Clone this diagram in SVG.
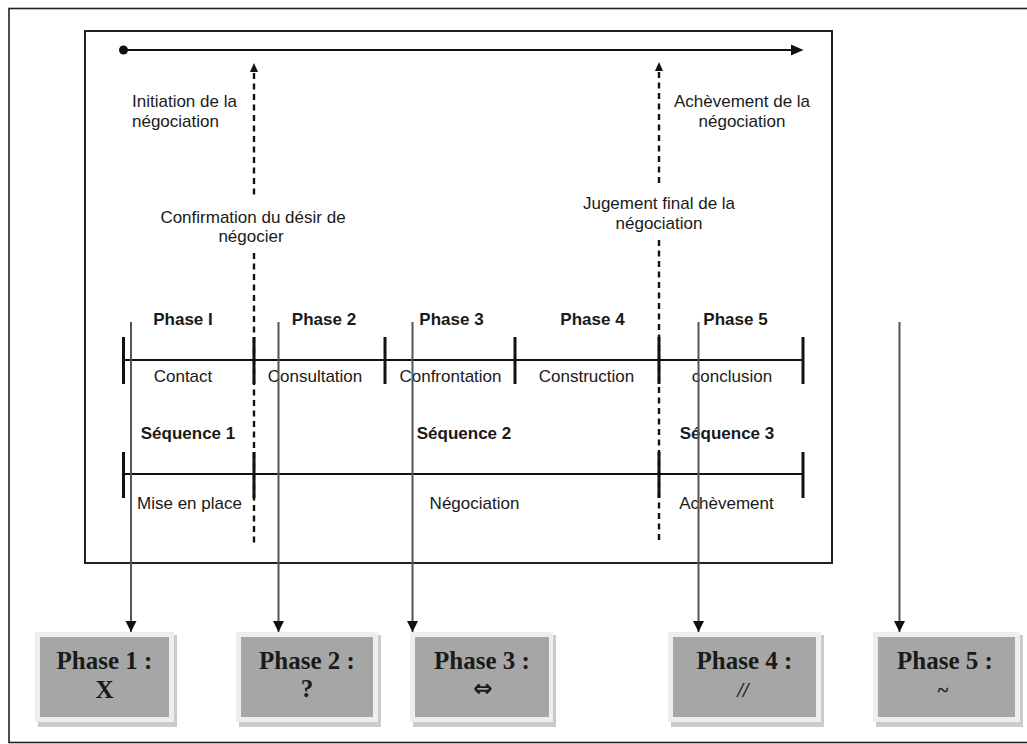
<svg xmlns="http://www.w3.org/2000/svg" width="1027" height="744" viewBox="0 0 1027 744">
<style>
.lbl{font-family:"Liberation Sans",Arial,sans-serif;font-size:17px;fill:#1a1a1a}
.b{font-weight:bold}
.mid{text-anchor:middle}
.box-t{font-family:"Liberation Serif","DejaVu Serif",serif;font-size:25px;font-weight:bold;fill:#1a1a1a;text-anchor:middle}
.axis{stroke:#111;stroke-width:2;fill:none}
.tick{stroke:#111;stroke-width:3}
.dash{stroke:#111;stroke-width:2.4;stroke-dasharray:6 4.5;fill:none}
.conn{stroke:#555;stroke-width:2;fill:none}
.light{fill:#eeeeee}
.shadow{fill:#cbcbcb}
.gray{fill:#a6a6a6}
</style>
<defs>
<marker id="down" markerUnits="userSpaceOnUse" markerWidth="12" markerHeight="12" refX="11" refY="6" orient="auto" viewBox="0 0 12 12">
<path d="M0,0.5 L11,6 L0,11.5 Z" fill="#111"/>
</marker>
</defs>
<rect width="1027" height="744" fill="#fff"/>
<!-- outer frame -->
<rect x="9" y="8.5" width="1030" height="734" fill="none" stroke="#222" stroke-width="1.6"/>
<!-- inner frame -->
<rect x="85" y="31" width="747" height="532" fill="none" stroke="#222" stroke-width="2"/>

<g id="timeline">
<line x1="123" y1="50" x2="793" y2="50" class="axis"/>
<circle cx="123.5" cy="50" r="4.5" fill="#111"/>
<path d="M791,44.5 L803.5,50 L791,55.5 Z" fill="#111"/>
</g>

<g id="milestone-start">
<line x1="254" y1="73" x2="254" y2="195" class="dash"/>
<line x1="254" y1="253" x2="254" y2="543" class="dash"/>
<path d="M250,72 L254,63 L258,72 Z" fill="#111"/>
<text class="lbl" x="132" y="107">Initiation de la</text>
<text class="lbl" x="132" y="127">négociation</text>
<text class="lbl mid" x="253" y="223">Confirmation du désir de</text>
<text class="lbl mid" x="251" y="242">négocier</text>
</g>

<g id="milestone-end">
<line x1="659" y1="72" x2="659" y2="183" class="dash"/>
<line x1="659" y1="240" x2="659" y2="543" class="dash"/>
<path d="M655,71 L659,62 L663,71 Z" fill="#111"/>
<text class="lbl mid" x="742" y="107">Achèvement de la</text>
<text class="lbl mid" x="742" y="127">négociation</text>
<text class="lbl mid" x="659" y="209">Jugement final de la</text>
<text class="lbl mid" x="659" y="229">négociation</text>
</g>

<g id="phases">
<line x1="123" y1="360" x2="803" y2="360" class="axis"/>
<line x1="123.5" y1="337" x2="123.5" y2="384" class="tick"/>
<line x1="254" y1="337" x2="254" y2="384" class="tick"/>
<line x1="385" y1="337" x2="385" y2="384" class="tick"/>
<line x1="515" y1="337" x2="515" y2="384" class="tick"/>
<line x1="659" y1="337" x2="659" y2="384" class="tick"/>
<line x1="803" y1="337" x2="803" y2="384" class="tick"/>
<text class="lbl b mid" x="183" y="325">Phase I</text>
<text class="lbl b mid" x="324" y="325">Phase 2</text>
<text class="lbl b mid" x="451.5" y="325">Phase 3</text>
<text class="lbl b mid" x="592.5" y="325">Phase 4</text>
<text class="lbl b mid" x="735.5" y="325">Phase 5</text>
<text class="lbl mid" x="183" y="382">Contact</text>
<text class="lbl mid" x="315" y="382">Consultation</text>
<text class="lbl mid" x="450.5" y="382">Confrontation</text>
<text class="lbl mid" x="586.5" y="382">Construction</text>
<text class="lbl mid" x="732" y="382">conclusion</text>
</g>

<g id="sequences">
<line x1="123" y1="474" x2="803" y2="474" class="axis"/>
<line x1="123.5" y1="452" x2="123.5" y2="498" class="tick"/>
<line x1="254" y1="452" x2="254" y2="498" class="tick"/>
<line x1="659" y1="452" x2="659" y2="498" class="tick"/>
<line x1="803" y1="452" x2="803" y2="498" class="tick"/>
<text class="lbl b mid" x="188" y="439">Séquence 1</text>
<text class="lbl b mid" x="464" y="439">Séquence 2</text>
<text class="lbl b mid" x="727" y="439">Séquence 3</text>
<text class="lbl mid" x="189.5" y="509">Mise en place</text>
<text class="lbl mid" x="474.5" y="509">Négociation</text>
<text class="lbl mid" x="726.5" y="509">Achèvement</text>
</g>

<g id="connectors">
<line x1="131" y1="322" x2="131" y2="632" class="conn" marker-end="url(#down)"/>
<line x1="278.5" y1="322" x2="278.5" y2="632" class="conn" marker-end="url(#down)"/>
<line x1="412.5" y1="322" x2="412.5" y2="632" class="conn" marker-end="url(#down)"/>
<line x1="698.5" y1="322" x2="698.5" y2="632" class="conn" marker-end="url(#down)"/>
<line x1="899.5" y1="322" x2="899.5" y2="632" class="conn" marker-end="url(#down)"/>
</g>

<g id="box1">
<rect x="38" y="635" width="139" height="92" class="shadow"/>
<rect x="35" y="632" width="139" height="90" class="light"/>
<rect x="40" y="637" width="129" height="80" class="gray"/>
<text class="box-t" x="104.5" y="669">Phase 1 :</text>
<text class="box-t" x="104.5" y="698">X</text>
</g>
<g id="box2">
<rect x="239" y="635" width="142" height="92" class="shadow"/>
<rect x="236" y="632" width="142" height="90" class="light"/>
<rect x="241" y="637" width="132" height="80" class="gray"/>
<text class="box-t" x="307" y="669">Phase 2 :</text>
<text class="box-t" x="307" y="697">?</text>
</g>
<g id="box3">
<rect x="413" y="635" width="143" height="92" class="shadow"/>
<rect x="410" y="632" width="143" height="90" class="light"/>
<rect x="415" y="637" width="134" height="80" class="gray"/>
<text class="box-t" x="482" y="669">Phase 3 :</text>
<text class="box-t" x="483" y="696" style="font-family:'DejaVu Sans',sans-serif;font-size:23px">⇔</text>
</g>
<g id="box4">
<rect x="671" y="635" width="153" height="92" class="shadow"/>
<rect x="668" y="632" width="153" height="90" class="light"/>
<rect x="673" y="637" width="143" height="80" class="gray"/>
<text class="box-t" x="743" y="697" style="font-size:20px;font-style:italic">//</text>
<text class="box-t" x="744.5" y="669">Phase 4 :</text>
</g>
<g id="box5">
<rect x="876" y="635" width="147" height="92" class="shadow"/>
<rect x="873" y="632" width="147" height="90" class="light"/>
<rect x="878" y="637" width="137" height="80" class="gray"/>
<text class="box-t" x="943" y="697" style="font-size:20px">~</text>
<text class="box-t" x="945" y="669">Phase 5 :</text>
</g>
</svg>
